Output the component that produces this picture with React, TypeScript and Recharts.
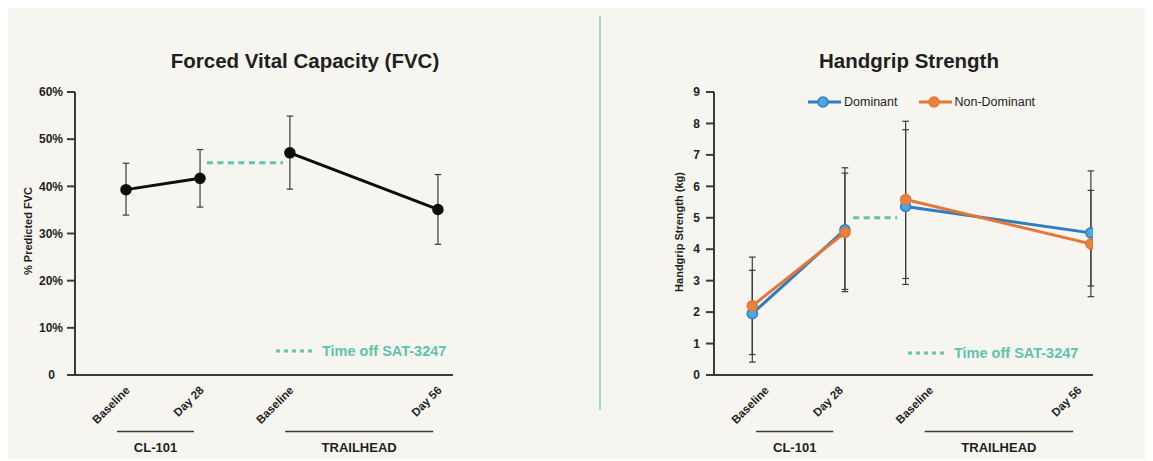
import React from 'react';
import { LineChart, Line, XAxis, YAxis, ErrorBar, ReferenceLine, Legend } from 'recharts';

// visit layout shared by both panels (x in axis units, same label layout on both sides)
const visitLabels = ['Baseline', 'Day 28', 'Baseline', 'Day 56'];
const visitStudy = ['CL-101', 'CL-101', 'TRAILHEAD', 'TRAILHEAD'];
const xDomain = [-19.3, 123.7];
const labelTicks = [0, 28, 62, 118];
const studyNames = ['CL-101', 'TRAILHEAD'];
const studySpans = [[-3.4, 25.7], [60.2, 116.2]];

// FVC (% predicted)
const fvcX = [0, 28, 62, 118];
const fvcMean = [39.3, 41.7, 47.1, 35.1];
const fvcLow = [33.9, 35.6, 39.4, 27.7];
const fvcHigh = [44.9, 47.8, 54.9, 42.5];
const fvcOff = [30.6, 59.4];
const fvcOffLevel = 45;
const fvcTicks = [0, 10, 20, 30, 40, 50, 60];

// Handgrip strength (kg) – points sit off the label positions in this panel
const gripX = [-4.85, 30.1, 53.0, 122.9];
const domMean = [1.95, 4.62, 5.36, 4.52];
const domLow = [0.65, 2.65, 2.88, 2.49];
const domHigh = [3.33, 6.59, 7.8, 6.49];
const nonMean = [2.2, 4.53, 5.58, 4.17];
const nonLow = [0.41, 2.72, 3.07, 2.83];
const nonHigh = [3.75, 6.42, 8.07, 5.87];
const gripOff = [33.2, 49.8];
const gripOffLevel = 5;
const gripTicks = [0, 1, 2, 3, 4, 5, 6, 7, 8, 9];

const font = '"Liberation Sans", Arial, Helvetica, sans-serif';
const ink = '#1f1f1f';
const axisColor = '#3a3a3a';
const teal = '#5fc3ae';
const H = 451;

type Series = { key: string; name: string; color: string; dotFill: string; mean: number[]; low: number[]; high: number[] };

const fvcSeries: Series[] = [
  { key: 'fvc', name: 'FVC', color: '#0d0d0d', dotFill: '#0d0d0d', mean: fvcMean, low: fvcLow, high: fvcHigh },
];
const gripSeries: Series[] = [
  { key: 'dom', name: 'Dominant', color: '#2f7dc0', dotFill: '#4aa9e4', mean: domMean, low: domLow, high: domHigh },
  { key: 'non', name: 'Non-Dominant', color: '#e4763a', dotFill: '#e9823f', mean: nonMean, low: nonLow, high: nonHigh },
];

function segment(xs: number[], s: Series, study: string) {
  return visitStudy
    .map((st, i) => ({ st, i }))
    .filter(o => o.st === study)
    .map(({ i }) => ({ x: xs[i], y: s.mean[i], err: [s.mean[i] - s.low[i], s.high[i] - s.mean[i]] }));
}

// rotated visit label, plus the study bracket under the first visit of each study
const makeVisitTick = (k: number) => (props: any) => {
  const { x, y, index, payload } = props;
  const ax = x + 4.5;
  const ay = y + 16;
  const si = studyNames.indexOf(visitStudy[index]);
  const first = visitStudy.indexOf(visitStudy[index]) === index;
  let bracket = null;
  if (first) {
    const [a, b] = studySpans[si];
    const x1 = x + (a - payload.value) * k;
    const x2 = x + (b - payload.value) * k;
    bracket = (
      <g>
        <line x1={x1} x2={x2} y1={y + 56.5} y2={y + 56.5} stroke={axisColor} strokeWidth={1.5} />
        <text x={(x1 + x2) / 2} y={y + 76.5} textAnchor="middle" fontFamily={font} fontSize={13} fontWeight={700} fill={ink}>
          {studyNames[si]}
        </text>
      </g>
    );
  }
  return (
    <g>
      <text x={ax} y={ay} transform={`rotate(-45, ${ax}, ${ay})`} textAnchor="end"
        fontFamily={font} fontSize={11.5} fontWeight={700} fill={ink}>
        {visitLabels[index]}
      </text>
      {bracket}
    </g>
  );
};

const makeYTick = (pct: boolean) => (props: any) => {
  const { x, y, payload } = props;
  const v = payload.value;
  const label = pct ? (v === 0 ? '0' : `${v}%`) : String(v);
  return (
    <text x={x - (pct && v === 0 ? 8 : 0)} y={y} dy={4.2} textAnchor="end"
      fontFamily={font} fontSize={12} fontWeight={700} fill={ink}>
      {label}
    </text>
  );
};

const GripLegend = () => (
  <div style={{ display: 'flex', alignItems: 'center', fontFamily: font, fontSize: 12.5, color: ink, lineHeight: '12px' }}>
    {gripSeries.map((s, i) => (
      <div key={s.key} style={{ display: 'flex', alignItems: 'center', marginLeft: i ? 21 : 0 }}>
        <svg width={33} height={12}>
          <line x1={0} y1={6} x2={33} y2={6} stroke={s.color} strokeWidth={3} />
          <circle cx={15} cy={6} r={5} fill={s.dotFill} stroke={s.color} strokeWidth={1.5} />
        </svg>
        <span style={{ marginLeft: 3, whiteSpace: 'nowrap' }}>{s.name}</span>
      </div>
    ))}
  </div>
);

type PanelProps = {
  left: number;
  width: number;
  yWidth: number;
  marginRight: number;
  xs: number[];
  yDomain: number[];
  yTicks: number[];
  yTickMargin: number;
  pct: boolean;
  series: Series[];
  off: number[];
  offLevel: number;
  title: string;
  titleX: number;
  yLabel: string;
  yLabelX: number;
  yLabelY: number;
  offLegend: { x: number; y: number; tx: number };
  legend?: boolean;
};

function Panel(p: PanelProps) {
  const plotW = p.width - p.yWidth - p.marginRight;
  const k = plotW / (xDomain[1] - xDomain[0]);
  return (
    <div style={{ position: 'absolute', left: p.left, top: 0, width: p.width, height: H }}>
      <LineChart width={p.width} height={H} margin={{ top: 84, right: p.marginRight, bottom: 3, left: 0 }}>
        <XAxis type="number" dataKey="x" domain={xDomain} ticks={labelTicks} interval={0} allowDataOverflow
          height={81} tickLine={false} tickSize={0} tickMargin={0}
          axisLine={{ stroke: axisColor, strokeWidth: 2 }} tick={makeVisitTick(k)} />
        <YAxis type="number" domain={p.yDomain} ticks={p.yTicks} interval={0} allowDataOverflow width={p.yWidth}
          axisLine={{ stroke: axisColor, strokeWidth: 2 }} tickLine={{ stroke: axisColor, strokeWidth: 2 }}
          tickSize={8} tickMargin={p.yTickMargin} tick={makeYTick(p.pct)} />
        <ReferenceLine segment={[{ x: p.off[0], y: p.offLevel }, { x: p.off[1], y: p.offLevel }]}
          stroke={teal} strokeWidth={3} strokeDasharray="6 4.5" />
        {p.series.flatMap(s =>
          studyNames.map(st => (
            <Line key={s.key + st} data={segment(p.xs, s, st)} dataKey="y" name={s.name}
              stroke={s.color} strokeWidth={3} legendType="none" isAnimationActive={false}
              dot={{ r: 5, fill: s.dotFill, stroke: s.color, strokeWidth: 1.5 }} activeDot={false}>
              <ErrorBar dataKey="err" direction="y" width={3.3} stroke="#3c3c3c" strokeWidth={1.2} />
            </Line>
          ))
        )}
        {p.legend && (
          <Legend layout="vertical" align="center" verticalAlign="middle" content={() => <GripLegend />}
            wrapperStyle={{ top: 88, left: 208, width: 'auto', height: 12 }} />
        )}
      </LineChart>
      <svg width={p.width} height={H} style={{ position: 'absolute', left: 0, top: 0, pointerEvents: 'none' }}>
        <text x={p.titleX} y={60} textAnchor="middle" fontFamily={font} fontSize={20.5} fontWeight={700} fill={ink}>
          {p.title}
        </text>
        <text x={p.yLabelX} y={p.yLabelY} transform={`rotate(-90, ${p.yLabelX}, ${p.yLabelY})`} textAnchor="middle"
          fontFamily={font} fontSize={11} fontWeight={700} fill={ink}>
          {p.yLabel}
        </text>
        <line x1={p.offLegend.x} x2={p.offLegend.x + 39} y1={p.offLegend.y} y2={p.offLegend.y}
          stroke={teal} strokeWidth={3} strokeDasharray="4 4" />
        <text x={p.offLegend.tx} y={p.offLegend.y + 5} fontFamily={font} fontSize={14.5} fontWeight={700} fill={teal}>
          Time off SAT-3247
        </text>
      </svg>
    </div>
  );
}

export default function App() {
  return (
    <div style={{ position: 'relative', width: 1140, height: H, background: '#f6f5ef', fontFamily: font }}>
      <Panel left={0} width={592} yWidth={67} marginRight={147} xs={fvcX}
        yDomain={[0, 60]} yTicks={fvcTicks} yTickMargin={4} pct series={fvcSeries}
        off={fvcOff} offLevel={fvcOffLevel} title="Forced Vital Capacity (FVC)" titleX={297}
        yLabel="% Predicted FVC" yLabelX={23.5} yLabelY={223} offLegend={{ x: 268, y: 343, tx: 314 }} />
      <div style={{ position: 'absolute', left: 591, top: 8, width: 2, height: 394, background: '#a3dacd' }} />
      <Panel left={592} width={548} yWidth={114} marginRight={55} xs={gripX}
        yDomain={[0, 9]} yTicks={gripTicks} yTickMargin={6} pct={false} series={gripSeries}
        off={gripOff} offLevel={gripOffLevel} title="Handgrip Strength" titleX={309}
        yLabel="Handgrip Strength (kg)" yLabelX={83} yLabelY={224} offLegend={{ x: 308, y: 345, tx: 354 }} legend />
    </div>
  );
}
